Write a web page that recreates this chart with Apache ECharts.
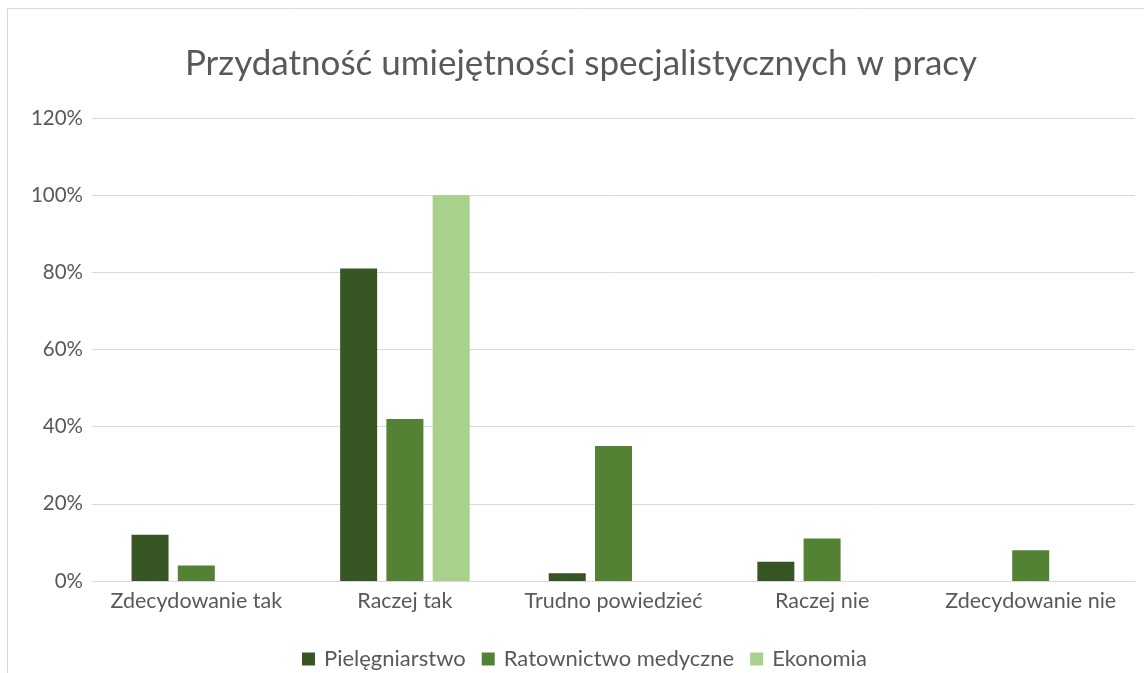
<!DOCTYPE html>
<html>
<head>
<meta charset="utf-8">
<script src="https://cdn.jsdelivr.net/npm/echarts@6/dist/echarts.min.js"></script>
<style>html,body{margin:0;padding:0;background:#fff}#c{width:1144px;height:673px}</style>
</head>
<body>
<div id="c"></div>
<script>
const categories = ['Zdecydowanie tak', 'Raczej tak', 'Trudno powiedzieć', 'Raczej nie', 'Zdecydowanie nie'];
const pielegniarstwo = [12, 81, 2, 5, null];
const ratownictwo = [4, 42, 35, 11, 8];
const ekonomia = [null, 100, null, null, null];
const yTicks = [0, 20, 40, 60, 80, 100, 120];

const chart = echarts.init(document.getElementById('c'));
const font = 'Lato, "Open Sans", sans-serif';
chart.setOption({
  animation: false,
  textStyle: { fontFamily: font },
  graphic: [{
    type: 'rect', silent: true,
    shape: { x: 7.5, y: 8.5, width: 1300, height: 800 },
    style: { fill: 'none', stroke: '#d9d9d9', lineWidth: 1 }
  }],
  title: {
    text: 'Przydatność umiejętności specjalistycznych w pracy',
    left: 576, top: 41, textAlign: 'center',
    textStyle: { fontFamily: font, fontSize: 35, fontWeight: 'normal', color: '#595959' }
  },
  legend: {
    top: 643, left: 297,
    itemWidth: 13, itemHeight: 13, itemGap: 16,
    icon: 'rect',
    textStyle: { fontFamily: font, fontSize: 22, color: '#595959', padding: [0, 0, 0, 4] },
    data: ['Pielęgniarstwo', 'Ratownictwo medyczne', 'Ekonomia']
  },
  grid: { left: 92, right: 9, top: 118, bottom: 92, containLabel: false },
  xAxis: {
    type: 'category', data: categories,
    axisLine: { lineStyle: { color: '#d9d9d9' } },
    axisTick: { show: false },
    axisLabel: { fontFamily: font, fontSize: 21.5, color: '#595959', margin: 9, interval: 0 }
  },
  yAxis: {
    type: 'value', min: yTicks[0], max: yTicks[yTicks.length - 1], interval: 20,
    axisLine: { show: false }, axisTick: { show: false },
    splitLine: { lineStyle: { color: '#d9d9d9', width: 1 } },
    axisLabel: { fontFamily: font, fontSize: 20.5, color: '#595959', margin: 9, formatter: v => v + '%' }
  },
  series: [
    { name: 'Pielęgniarstwo', type: 'bar', data: pielegniarstwo, barWidth: 37, barGap: '25%', itemStyle: { color: '#375623' } },
    { name: 'Ratownictwo medyczne', type: 'bar', data: ratownictwo, barWidth: 37, barGap: '25%', itemStyle: { color: '#548235' } },
    { name: 'Ekonomia', type: 'bar', data: ekonomia, barWidth: 37, barGap: '25%', itemStyle: { color: '#A9D18E' } }
  ]
});
</script>
</body>
</html>
